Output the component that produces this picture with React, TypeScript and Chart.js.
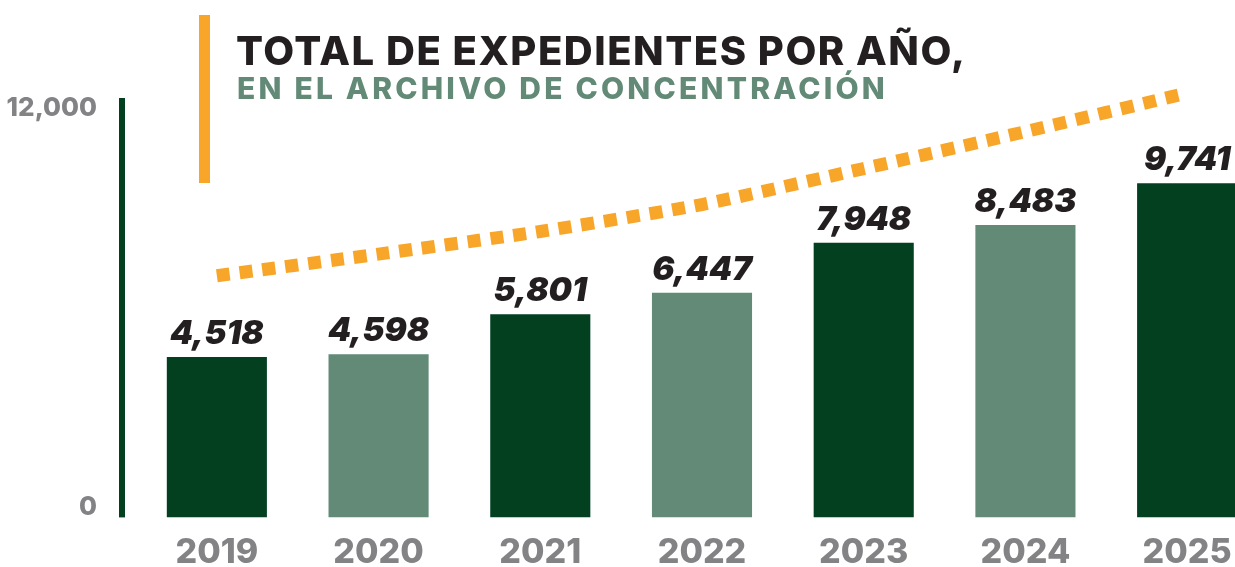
import React, { useEffect, useRef } from "react";
import { Chart, registerables } from "chart.js";

Chart.register(...registerables);

// ---- data ----
const YEARS = ["2019", "2020", "2021", "2022", "2023", "2024", "2025"];
const TOTALS = [4518, 4598, 5801, 6447, 7948, 8483, 9741];
const TREND = [6960, 7610, 8290, 9100, 10180, 11290, 12450];
const Y_TICKS = [0, 12000];
const Y_MIN = -300;
const Y_MAX = 12300;

const TITLE = "TOTAL DE EXPEDIENTES POR AÑO,";
const SUBTITLE = "EN EL ARCHIVO DE CONCENTRACIÓN";

// ---- styles ----
const DARK = "#02401f";
const LIGHT = "#628a77";
const ORANGE = "#f8a62a";
const GRAY = "#838386";
const INK = "#231f20";
const FONT = "Inter, 'Open Sans', sans-serif";

const fmt = (v: number) => v.toLocaleString("en-US");

const axisLinePlugin = {
  id: "axisLine",
  afterDraw(chart: any) {
    const { ctx, chartArea } = chart;
    ctx.save();
    ctx.fillStyle = DARK;
    ctx.fillRect(chartArea.left - 17, chartArea.top, 6, chartArea.bottom - chartArea.top);
    ctx.restore();
  },
};

const valueLabelPlugin = {
  id: "valueLabels",
  afterDatasetsDraw(chart: any) {
    const { ctx } = chart;
    const meta = chart.getDatasetMeta(0);
    ctx.save();
    ctx.fillStyle = INK;
    ctx.font = `italic 900 33px ${FONT}`;
    ctx.textAlign = "center";
    ctx.textBaseline = "alphabetic";
    meta.data.forEach((bar: any, i: number) => {
      ctx.fillText(fmt(TOTALS[i]), bar.x, bar.y - 13);
    });
    ctx.restore();
  },
};

function ChartCanvas() {
  const ref = useRef<HTMLCanvasElement | null>(null);
  useEffect(() => {
    if (!ref.current) return;
    const chart = new Chart(ref.current, {
      data: {
        labels: YEARS,
        datasets: [
          {
            type: "bar",
            data: TOTALS,
            backgroundColor: YEARS.map((_, i) => (i % 2 === 0 ? DARK : LIGHT)),
            base: Y_MIN,
            categoryPercentage: 1,
            barPercentage: 0.619,
            order: 2,
          } as any,
          {
            type: "line",
            data: TREND,
            borderColor: ORANGE,
            borderWidth: 13,
            borderDash: [13, 10],
            borderCapStyle: "butt",
            pointRadius: 0,
            tension: 0.2,
            clip: false,
            order: 1,
          } as any,
        ],
      },
      options: {
        animation: false,
        responsive: true,
        maintainAspectRatio: false,
        layout: { padding: { top: 98, right: 2, left: 0, bottom: 0 } },
        plugins: {
          legend: { display: false },
          tooltip: { enabled: false },
        },
        scales: {
          x: {
            grid: { display: false, drawTicks: false },
            border: { display: false },
            ticks: {
              color: GRAY,
              font: { family: FONT, size: 34, weight: "800", lineHeight: 1 },
              padding: 18,
            },
            afterFit: (s: any) => {
              s.height = 50;
            },
          },
          y: {
            min: Y_MIN,
            max: Y_MAX,
            grid: { display: false, drawTicks: false },
            border: { display: false },
            afterBuildTicks: (s: any) => {
              s.ticks = Y_TICKS.map((v) => ({ value: v }));
            },
            ticks: {
              color: GRAY,
              font: { family: FONT, size: 26, weight: "800" },
              padding: 39,
              callback: (v: any) => fmt(Number(v)),
            },
            afterFit: (s: any) => {
              s.width = 136;
            },
          },
        },
      } as any,
      plugins: [axisLinePlugin, valueLabelPlugin],
    });
    return () => chart.destroy();
  }, []);
  return <canvas ref={ref} />;
}

export default function App() {
  return (
    <div
      style={{
        position: "absolute",
        left: 0,
        top: 0,
        width: 1235,
        height: 567,
        overflow: "hidden",
        background: "#ffffff",
      }}
    >
      <div style={{ position: "absolute", left: 0, top: 0, width: 1270, height: 572 }}>
        <ChartCanvas />
      </div>
      <div
        style={{
          position: "absolute",
          left: 199,
          top: 15,
          width: 11,
          height: 168,
          background: ORANGE,
        }}
      />
      <div
        style={{
          position: "absolute",
          left: 236,
          top: 31,
          fontFamily: FONT,
          fontWeight: 800,
          fontSize: 40,
          lineHeight: "40px",
          letterSpacing: "1.5px",
          color: INK,
          whiteSpace: "nowrap",
        }}
      >
        {TITLE}
      </div>
      <div
        style={{
          position: "absolute",
          left: 237,
          top: 73,
          fontFamily: FONT,
          fontWeight: 800,
          fontSize: 30,
          lineHeight: "30px",
          letterSpacing: "3.2px",
          color: LIGHT,
          whiteSpace: "nowrap",
        }}
      >
        {SUBTITLE}
      </div>
    </div>
  );
}
